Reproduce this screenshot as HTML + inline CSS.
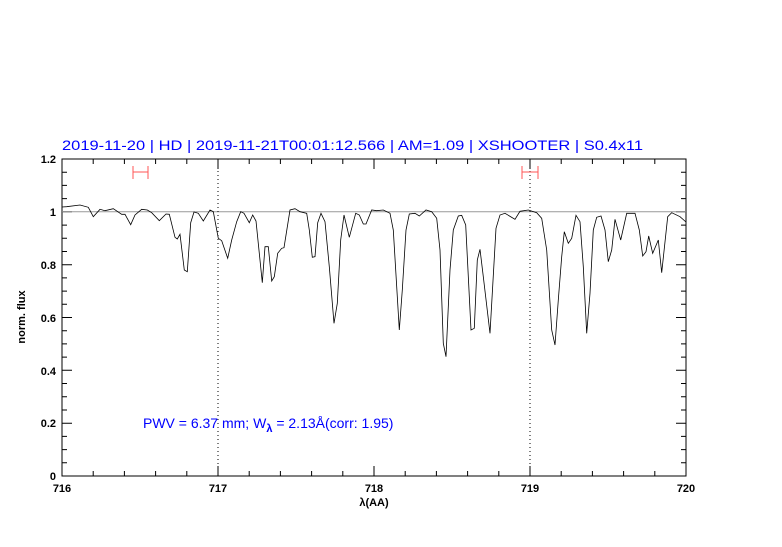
<!DOCTYPE html>
<html><head><meta charset="utf-8"><style>body{margin:0;background:#fff}</style></head><body>
<svg width="782" height="542" viewBox="0 0 782 542" xmlns="http://www.w3.org/2000/svg" font-family="Liberation Sans, sans-serif">
<rect width="782" height="542" fill="#fff"/>
<g stroke="#000" stroke-width="1">
<path d="M62,476v-10M93.2,476v-5M124.4,476v-5M155.6,476v-5M186.8,476v-5M218,476v-10M249.2,476v-5M280.4,476v-5M311.6,476v-5M342.8,476v-5M374,476v-10M405.2,476v-5M436.4,476v-5M467.6,476v-5M498.8,476v-5M530,476v-10M561.2,476v-5M592.4,476v-5M623.6,476v-5M654.8,476v-5M686,476v-10
M62,159v10M93.2,159v5M124.4,159v5M155.6,159v5M186.8,159v5M218,159v10M249.2,159v5M280.4,159v5M311.6,159v5M342.8,159v5M374,159v10M405.2,159v5M436.4,159v5M467.6,159v5M498.8,159v5M530,159v10M561.2,159v5M592.4,159v5M623.6,159v5M654.8,159v5M686,159v10"/>
<path d="M62,476h10M62,462.8h5M62,449.6h5M62,436.4h5M62,423.2h10M62,410h5M62,396.8h5M62,383.5h5M62,370.3h10M62,357.1h5M62,343.9h5M62,330.7h5M62,317.5h10M62,304.3h5M62,291.1h5M62,277.9h5M62,264.7h10M62,251.5h5M62,238.3h5M62,225.1h5M62,211.8h10M62,198.6h5M62,185.4h5M62,172.2h5M62,159h10
M686,476h-10M686,462.8h-5M686,449.6h-5M686,436.4h-5M686,423.2h-10M686,410h-5M686,396.8h-5M686,383.5h-5M686,370.3h-10M686,357.1h-5M686,343.9h-5M686,330.7h-5M686,317.5h-10M686,304.3h-5M686,291.1h-5M686,277.9h-5M686,264.7h-10M686,251.5h-5M686,238.3h-5M686,225.1h-5M686,211.8h-10M686,198.6h-5M686,185.4h-5M686,172.2h-5M686,159h-10"/>
</g>
<rect x="62" y="159" width="624" height="317" fill="none" stroke="#000" stroke-width="1"/>
<line x1="62" y1="211.8" x2="686" y2="211.8" stroke="#999" stroke-width="1"/>
<line x1="218" y1="159" x2="218" y2="476" stroke="#000" stroke-dasharray="1,3"/>
<line x1="530" y1="159" x2="530" y2="476" stroke="#000" stroke-dasharray="1,3"/>
<g stroke="#f55" stroke-width="1"><line x1="133" y1="172" x2="148" y2="172"/><line x1="133" y1="166" x2="133" y2="179"/><line x1="148" y1="166" x2="148" y2="179"/>
<line x1="522" y1="172" x2="538" y2="172"/><line x1="522" y1="166" x2="522" y2="179"/><line x1="538" y1="166" x2="538" y2="179"/></g>
<polyline fill="none" stroke="#000" stroke-width="0.8" points="62,207 66.7,206.7 80,205 88.3,207.3 93.3,216.7 100,209.3 105,210.7 113.3,208.7 121.7,214.3 125,214.3 130.7,224.7 135,215 141.7,209.3 147.3,210 151.7,212.7 159.3,220.7 166,214 169.3,214.3 175,237.3 177.3,239 180,234.3 184.3,270 187.3,271.7 190.7,222.7 194,212 198.3,213.3 203.3,221 210,210 213.3,211.7 218.3,238.3 221.7,240.7 227.7,258.3 231.7,240 236.7,221.7 240.7,211.7 244,213.3 249.3,222.7 252.7,215 256,221 262.3,282.7 265,246.7 268.3,246.7 271.7,281 274.3,276.7 277.7,253.3 281.7,248.3 284,247.7 290,210 295,208.7 300,211.7 306.7,213.3 309.3,230 312.3,257.3 315,256.7 317.7,222.7 321,213.3 325,221.7 329.3,266.7 334,323.3 337.3,303.3 340.7,240 344,215 349.3,237.3 355.7,213.3 359.3,215 363.3,224 366,224 371.7,210 376.7,210.7 383.3,210 390,213.3 393.3,230 399.3,330 402.3,290 406,230 409.3,214 415,213.3 419.3,216 426,210 431.7,211.7 436.7,218.3 440,250 443.3,343.3 446,356.7 450,270 453.3,230 458.3,216 461.7,215.3 465.7,225 471,330 474.3,328.3 477.3,260 480,249.3 483.3,276.7 490,333.3 496,228.3 500,215 505,213.3 515,219.3 520,211.3 528.3,210 536.7,212.7 541.7,218.3 546.7,250 551.7,330 555,345 558.3,300 561.7,256.7 564.3,231.7 568.3,243.3 571.7,238.3 576,215.3 580,221.7 583.3,266.7 586.7,333.3 590,293.3 593.3,230 596.7,217.3 601,216 605,230 608.3,261.7 611.7,250 615,219.3 620.7,240 626.7,213.3 635,213.3 639.3,230 642.7,256 646,251.7 648.7,236 652.7,253.3 658.3,240 661.7,272.7 667.7,216.7 671.7,212.7 680,216.7 686,222"/>
<text x="62" y="150" font-size="14" fill="#00f" textLength="581" lengthAdjust="spacingAndGlyphs">2019-11-20 | HD | 2019-11-21T00:01:12.566 | AM=1.09 | XSHOOTER | S0.4x11</text>
<text x="143" y="428" font-size="14" fill="#00f">PWV = 6.37 mm; W<tspan font-size="11" dy="4" font-weight="bold">λ</tspan><tspan dy="-4"> = 2.13Å(corr: 1.95)</tspan></text>
<g font-size="11" text-anchor="end" font-weight="bold">
<text x="56" y="163">1.2</text><text x="56" y="216">1</text><text x="56" y="269">0.8</text><text x="56" y="322">0.6</text><text x="56" y="375">0.4</text><text x="56" y="427">0.2</text><text x="56" y="480">0</text></g>
<g font-size="11" text-anchor="middle" font-weight="bold">
<text x="62" y="492">716</text><text x="218" y="492">717</text><text x="374" y="492">718</text><text x="530" y="492">719</text><text x="686" y="492">720</text>
<text x="374" y="506">λ(AA)</text></g>
<text transform="translate(25,317) rotate(-90)" font-size="11" text-anchor="middle" font-weight="bold">norm. flux</text>
</svg>
</body></html>
